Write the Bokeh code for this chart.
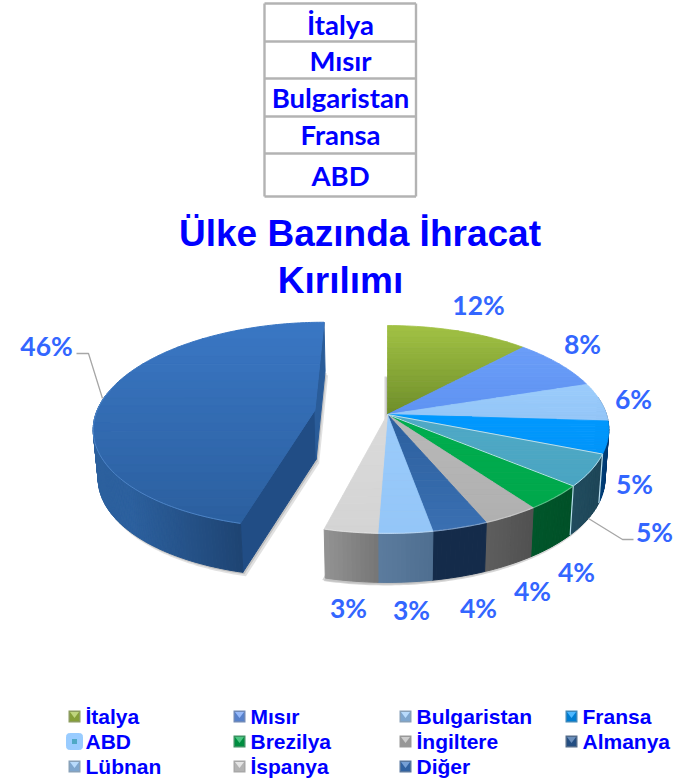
import math
from bokeh.plotting import figure
from bokeh.models import Range1d, ColumnDataSource
from bokeh.core.properties import value
from bokeh.embed import file_html
from bokeh.resources import INLINE

# ---- data ----
categories = ["İtalya", "Mısır", "Bulgaristan", "Fransa", "ABD", "Brezilya",
              "İngiltere", "Almanya", "Lübnan", "İspanya", "Diğer"]
shares = [12, 8, 6, 5, 5, 4, 3.6, 3.55, 3.45, 3.4, 46]
table_rows = ["İtalya", "Mısır", "Bulgaristan", "Fransa", "ABD"]
title_lines = ["Ülke Bazında İhracat", "Kırılımı"]

# ---- styles: top-face gradient (top, bottom) and wall gradient (left, right) ----
top_cols = ["#a2c244 #6e8e2a", "#6a9df8 #5f93f2", "#9acbfb #94c6f8", "#0099ff #0095fa", "#4fa9c6 #4aa5c2",
            "#00ad4e #00a84c", "#b8b8b8 #b0b0b0", "#2c5f9e #3a70b2", "#9acbfb #94c6f8", "#dadada #d4d4d4",
            "#3a77c4 #2b5f9f"]
wall_cols = ["#6e8e2a #6e8e2a", "#3f68a8 #3f68a8", "#5a7d9f #5a7d9f", "#003f78 #002f66", "#214c5e #1c4456",
             "#00562a #005028", "#5e5e5e #505050", "#142b4a #142b4a", "#5c7c9e #4e6e90", "#939393 #767676",
             "#2c609e #1e4473"]
label_col = "#3366ff"
pure_blue = "#0000ff"

# label centres (page px), in slice order
label_xy = [(478, 304), (582, 343), (633, 398), (634, 483), (654, 531), (576, 571),
            (532, 590), (478, 607), (411, 609), (348, 607), (46, 345)]

W, H = 679, 781
p = figure(width=W, height=H, x_range=Range1d(0, W), y_range=Range1d(H, 0),
           toolbar_location=None, output_backend="svg", min_border=0,
           background_fill_color="white", border_fill_color="white", outline_line_color=None)
p.xaxis.visible = False
p.yaxis.visible = False
p.grid.visible = False

# ---- projection of the tilted disc ----
CX, CY, RX, RY, K, DEPTH, SHRINK = 387, 414, 219, 101.8, 0.144, 49, 0.983
EXPLODE = 0.336


def proj(u, v):
    w = 1 - K * v
    return CX + RX * u / w, CY + RY * v / w


def lower(pt):
    return CX + (pt[0] - CX) * SHRINK, pt[1] + DEPTH


def rim(a0, a1, du, dv, n=None):
    n = n or max(2, int(abs(a1 - a0) * 2))
    return [proj(du + math.sin(math.radians(a0 + (a1 - a0) * i / n)),
                 dv - math.cos(math.radians(a0 + (a1 - a0) * i / n))) for i in range(n + 1)]


def mix(c0, c1, t):
    a = [int(c0[i:i + 2], 16) for i in (1, 3, 5)]
    b = [int(c1[i:i + 2], 16) for i in (1, 3, 5)]
    return "#%02x%02x%02x" % tuple(round(a[i] + (b[i] - a[i]) * t) for i in range(3))


def clip(poly, y, keep_below):
    out = []
    inside = (lambda q: q[1] >= y) if keep_below else (lambda q: q[1] <= y)
    for i, a in enumerate(poly):
        b = poly[(i + 1) % len(poly)]
        ia, ib = inside(a), inside(b)
        if ia:
            out.append(a)
        if ia != ib:
            t = (y - a[1]) / (b[1] - a[1])
            out.append((a[0] + (b[0] - a[0]) * t, y))
    return out


def bands(poly, c0, c1, n=16):
    ys = [q[1] for q in poly]
    y0, y1 = min(ys), max(ys)
    res = []
    for i in range(n):
        a, b = y0 + (y1 - y0) * i / n, y0 + (y1 - y0) * (i + 1) / n
        part = clip(clip(poly, a, True), b, False)
        if len(part) >= 3:
            res.append((part, mix(c0, c1, (i + .5) / n)))
    return res


def draw(items, width=1.0):
    src = ColumnDataSource(dict(xs=[[q[0] for q in it[0]] for it in items],
                                ys=[[q[1] for q in it[0]] for it in items],
                                c=[it[1] for it in items]))
    p.patches("xs", "ys", source=src, fill_color="c", line_color="c", line_width=width)


# ---- pie geometry from the shares ----
total = sum(shares)
angles = [0]
for s in shares:
    angles.append(angles[-1] + 360 * s / total)

mid_last = math.radians((angles[-2] + angles[-1]) / 2)
dU, dV = EXPLODE * math.sin(mid_last), -EXPLODE * math.cos(mid_last)
n_main = len(shares) - 1

apex_main = proj(0, 0)
apex_ex = proj(dU, dV)
rim_main = rim(angles[0], angles[n_main], 0, 0, 200)
rim_ex = rim(angles[n_main], angles[-1], dU, dV, 200)
bottom_main = [lower(apex_main)] + [lower(q) for q in rim_main]
bottom_ex = [lower(apex_ex)] + [lower(q) for q in rim_ex]

# soft shadows
for off, a in (((-3, 2), .55), ((-1.5, 3), .55)):
    p.patch([q[0] + off[0] for q in bottom_main], [q[1] + off[1] for q in bottom_main],
            fill_color="#b5b5b5", fill_alpha=a, line_color=None)
for off, a in (((3, 4), .35), ((1.5, 2), .55)):
    p.patch([q[0] + off[0] for q in bottom_ex], [q[1] + off[1] for q in bottom_ex],
            fill_color="#a8a8a8", fill_alpha=a, line_color=None)

# main pie walls
walls = []
for i in range(n_main):
    a0, a1 = max(angles[i], 80), angles[i + 1]
    if a1 <= 80:
        continue
    c0, c1 = wall_cols[i].split()
    pts = rim(a0, a1, 0, 0, 12)
    for j in range(len(pts) - 1):
        t = (j + .5) / (len(pts) - 1)
        walls.append(([pts[j], pts[j + 1], lower(pts[j + 1]), lower(pts[j])], mix(c1, c0, t)))
draw(walls)

# pale separators on the ABD wall
for idx in (4, 5):
    q = proj(math.sin(math.radians(angles[idx])), -math.cos(math.radians(angles[idx])))
    r = lower(q)
    p.line([q[0], r[0]], [q[1], r[1]], line_color="#b9dff0", line_width=1.2)

# main pie top faces
faces = []
for i in range(n_main):
    c0, c1 = top_cols[i].split()
    faces += bands([apex_main] + rim(angles[i], angles[i + 1], 0, 0, 30), c0, c1)
draw(faces, 0.8)

# pale outline of ABD slice
abd = [apex_main] + rim(angles[4], angles[5], 0, 0, 30) + [apex_main]
p.line([q[0] for q in abd], [q[1] for q in abd], line_color="#b9dff0", line_width=1)
# soft light rim along the front
front = rim(angles[5], angles[n_main], 0, 0, 60)
p.line([q[0] for q in front], [q[1] for q in front], line_color="#ffffff", line_alpha=.35, line_width=1.2)

# exploded slice: walls, then top face
c0, c1 = wall_cols[-1].split()
w_items = []
a_rim0 = rim_ex[0]
w_items.append(([apex_ex, a_rim0, lower(a_rim0), lower(apex_ex)], "#214d85"))
a_rim1 = rim_ex[-1]
w_items.append(([apex_ex, a_rim1, lower(a_rim1), lower(apex_ex)], "#2a5c99"))
for j in range(0, 120):
    a, b = rim_ex[j], rim_ex[j + 1]
    if a[1] < CY - 20 and b[1] < CY - 20:
        continue
    t = (a[0] - rim_ex[120][0]) / (a_rim0[0] - rim_ex[120][0])
    w_items.append(([a, b, lower(b), lower(a)], mix(c0, c1, min(1, max(0, t)))))
draw(w_items)
c0, c1 = top_cols[-1].split()
draw(bands([apex_ex] + rim_ex, c0, c1, 24))
low_rim = rim_ex[:110]
p.line([q[0] for q in low_rim], [q[1] for q in low_rim], line_color="#5c93d4", line_alpha=.7, line_width=1)

# leader lines
lead_46 = [(76, 353), (88, 353), (102, 398)]
lead_5 = [(633, 539), (622, 539), (588, 518)]
for ln in (lead_46, lead_5):
    p.line([q[0] for q in ln], [q[1] for q in ln], line_color="#a6a6a6", line_width=1.3)

# data labels
p.text(x=[q[0] for q in label_xy], y=[q[1] for q in label_xy],
       text=[f"{round(s)}%" for s in shares], text_color=label_col,
       text_font=value("Lato"), text_font_style="bold", text_font_size="26.5px",
       text_align="center", text_baseline="middle")

# title
p.text(x=[359.5, 340], y=[233, 280], text=title_lines, text_color=pure_blue,
       text_font=value("Liberation Sans"), text_font_style="bold", text_font_size="37px",
       text_align="center", text_baseline="middle")

# table
row_edges = [3, 41, 78, 116, 153, 196]
for y in row_edges:
    p.line([264, 415.5], [y, y], line_color="#b3b3b3", line_width=2.4)
for x in (264, 415.5):
    p.line([x, x], [row_edges[0], row_edges[-1]], line_color="#b3b3b3", line_width=2.4)
p.text(x=[340] * len(table_rows), y=[24, 60, 97, 134, 175], text=table_rows, text_color=pure_blue,
       text_font=value("Lato"), text_font_style="bold", text_font_size="27.5px",
       text_align="center", text_baseline="middle")

# legend
col_x = [68, 233, 399, 565]
row_y = [716, 741, 766]
SZ = 12
lx, ly, lt = [], [], []
for i, name in enumerate(categories):
    x = col_x[i % 4]
    y = row_y[i // 4]
    lx.append(x + 17)
    ly.append(y)
    lt.append(name)
    c_top, c_bot = top_cols[i].split()
    x0, x1, y0, y1 = x, x + SZ, y - SZ / 2, y + SZ / 2
    if name == "ABD":
        p.quad(left=[x0 - 2], right=[x1 + 2], top=[y0 - 2], bottom=[y1 + 2], fill_color="#99ccff",
               line_color="#99ccff", border_radius=3)
        p.quad(left=[x0 + 3.5], right=[x1 - 3.5], top=[y0 + 3.5], bottom=[y1 - 3.5],
               fill_color=c_top, line_color=None)
        continue
    p.quad(left=[x0], right=[x1], top=[y0], bottom=[y1], fill_color=mix(c_top, "#777777", .5), line_color=None)
    p.quad(left=[x0 + 1.5], right=[x1 - 1.5], top=[y0 + 1.5], bottom=[y1 - 1.5],
           fill_color=mix(c_top, "#000000", .18), line_color=None)
    p.patch([x0 + 1.5, x1 - 1.5, x + SZ / 2], [y0 + 1.5, y0 + 1.5, y + 1.5],
            fill_color=mix(c_top, "#ffffff", .3), line_color=None)
p.text(x=lx, y=ly, text=lt, text_color=pure_blue, text_font=value("Liberation Sans"),
       text_font_style="bold", text_font_size="21px", text_align="left", text_baseline="middle")

open("out.html", "w").write(file_html(p, INLINE))
